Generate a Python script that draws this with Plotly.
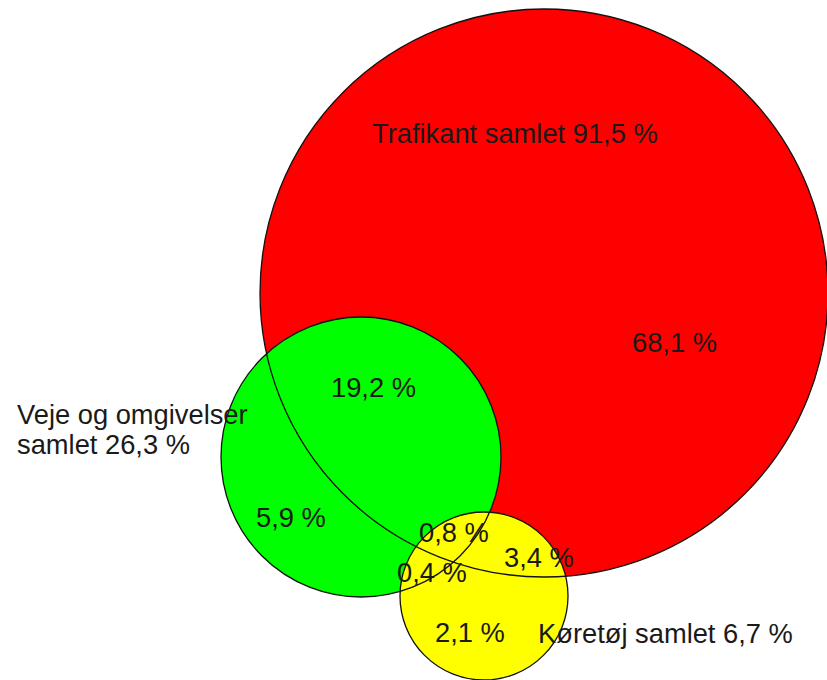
import plotly.graph_objects as go

# ---- data ----
set_names = ["Trafikant", "Veje og omgivelser", "Køretøj"]
set_totals = [91.5, 26.3, 6.7]
region_names = ["Kun trafikant", "Trafikant + veje", "Kun veje", "Alle tre",
                "Trafikant + køretøj", "Veje + køretøj", "Kun køretøj"]
region_values = [68.1, 19.2, 5.9, 0.8, 3.4, 0.4, 2.1]

# ---- layout (pixel geometry) ----
W, H = 827, 680
circles = [  # cx, cy, r
    (544, 293, 284),
    (361, 457, 140),
    (484, 596, 84),
]
fills = ["#ff0000", "#00ff00", "#ffff00"]
region_pos = [(674, 342), (373, 387), (291, 517), (454, 532),
              (539, 557), (432, 572), (470, 632)]
FONT = dict(family="Liberation Sans, Arial, sans-serif", size=27.3, color="#1a1a1a")


def fmt(v):
    return f"{v:.1f}".replace(".", ",") + " %"


fig = go.Figure()
fig.add_trace(go.Scatter(x=[0, W], y=[0, H], mode="markers",
                         marker=dict(opacity=0), hoverinfo="skip", showlegend=False))

shapes = []
for (cx, cy, r), col in zip(circles, fills):
    shapes.append(dict(type="circle", xref="x", yref="y",
                       x0=cx - r, x1=cx + r, y0=cy - r, y1=cy + r,
                       fillcolor=col, line=dict(width=0), layer="above"))
for (cx, cy, r) in circles:
    shapes.append(dict(type="circle", xref="x", yref="y",
                       x0=cx - r, x1=cx + r, y0=cy - r, y1=cy + r,
                       fillcolor="rgba(0,0,0,0)", line=dict(color="#111111", width=1.3),
                       layer="above"))

ann = []
for v, (x, y) in zip(region_values, region_pos):
    ann.append(dict(x=x, y=y, xref="x", yref="y", text=fmt(v), showarrow=False,
                    xanchor="center", yanchor="middle", font=FONT))

# set labels
ann.append(dict(x=515, y=133, xref="x", yref="y",
                text=f"{set_names[0]} samlet {fmt(set_totals[0])}", showarrow=False,
                xanchor="center", yanchor="middle", font=FONT))
ann.append(dict(x=15, y=414, xref="x", yref="y", text=set_names[1], showarrow=False,
                xanchor="left", yanchor="middle", font=FONT))
ann.append(dict(x=15, y=444, xref="x", yref="y", text=f"samlet {fmt(set_totals[1])}",
                showarrow=False, xanchor="left", yanchor="middle", font=FONT))
ann.append(dict(x=665, y=633, xref="x", yref="y",
                text=f"{set_names[2]} samlet {fmt(set_totals[2])}", showarrow=False,
                xanchor="center", yanchor="middle", font=FONT))

fig.update_layout(
    width=W, height=H, margin=dict(l=0, r=0, t=0, b=0, pad=0),
    paper_bgcolor="white", plot_bgcolor="white",
    xaxis=dict(range=[0, W], visible=False, fixedrange=True),
    yaxis=dict(range=[H, 0], visible=False, fixedrange=True),
    shapes=shapes, annotations=ann, showlegend=False,
)
fig.write_html("out.html", config=dict(displayModeBar=False))
